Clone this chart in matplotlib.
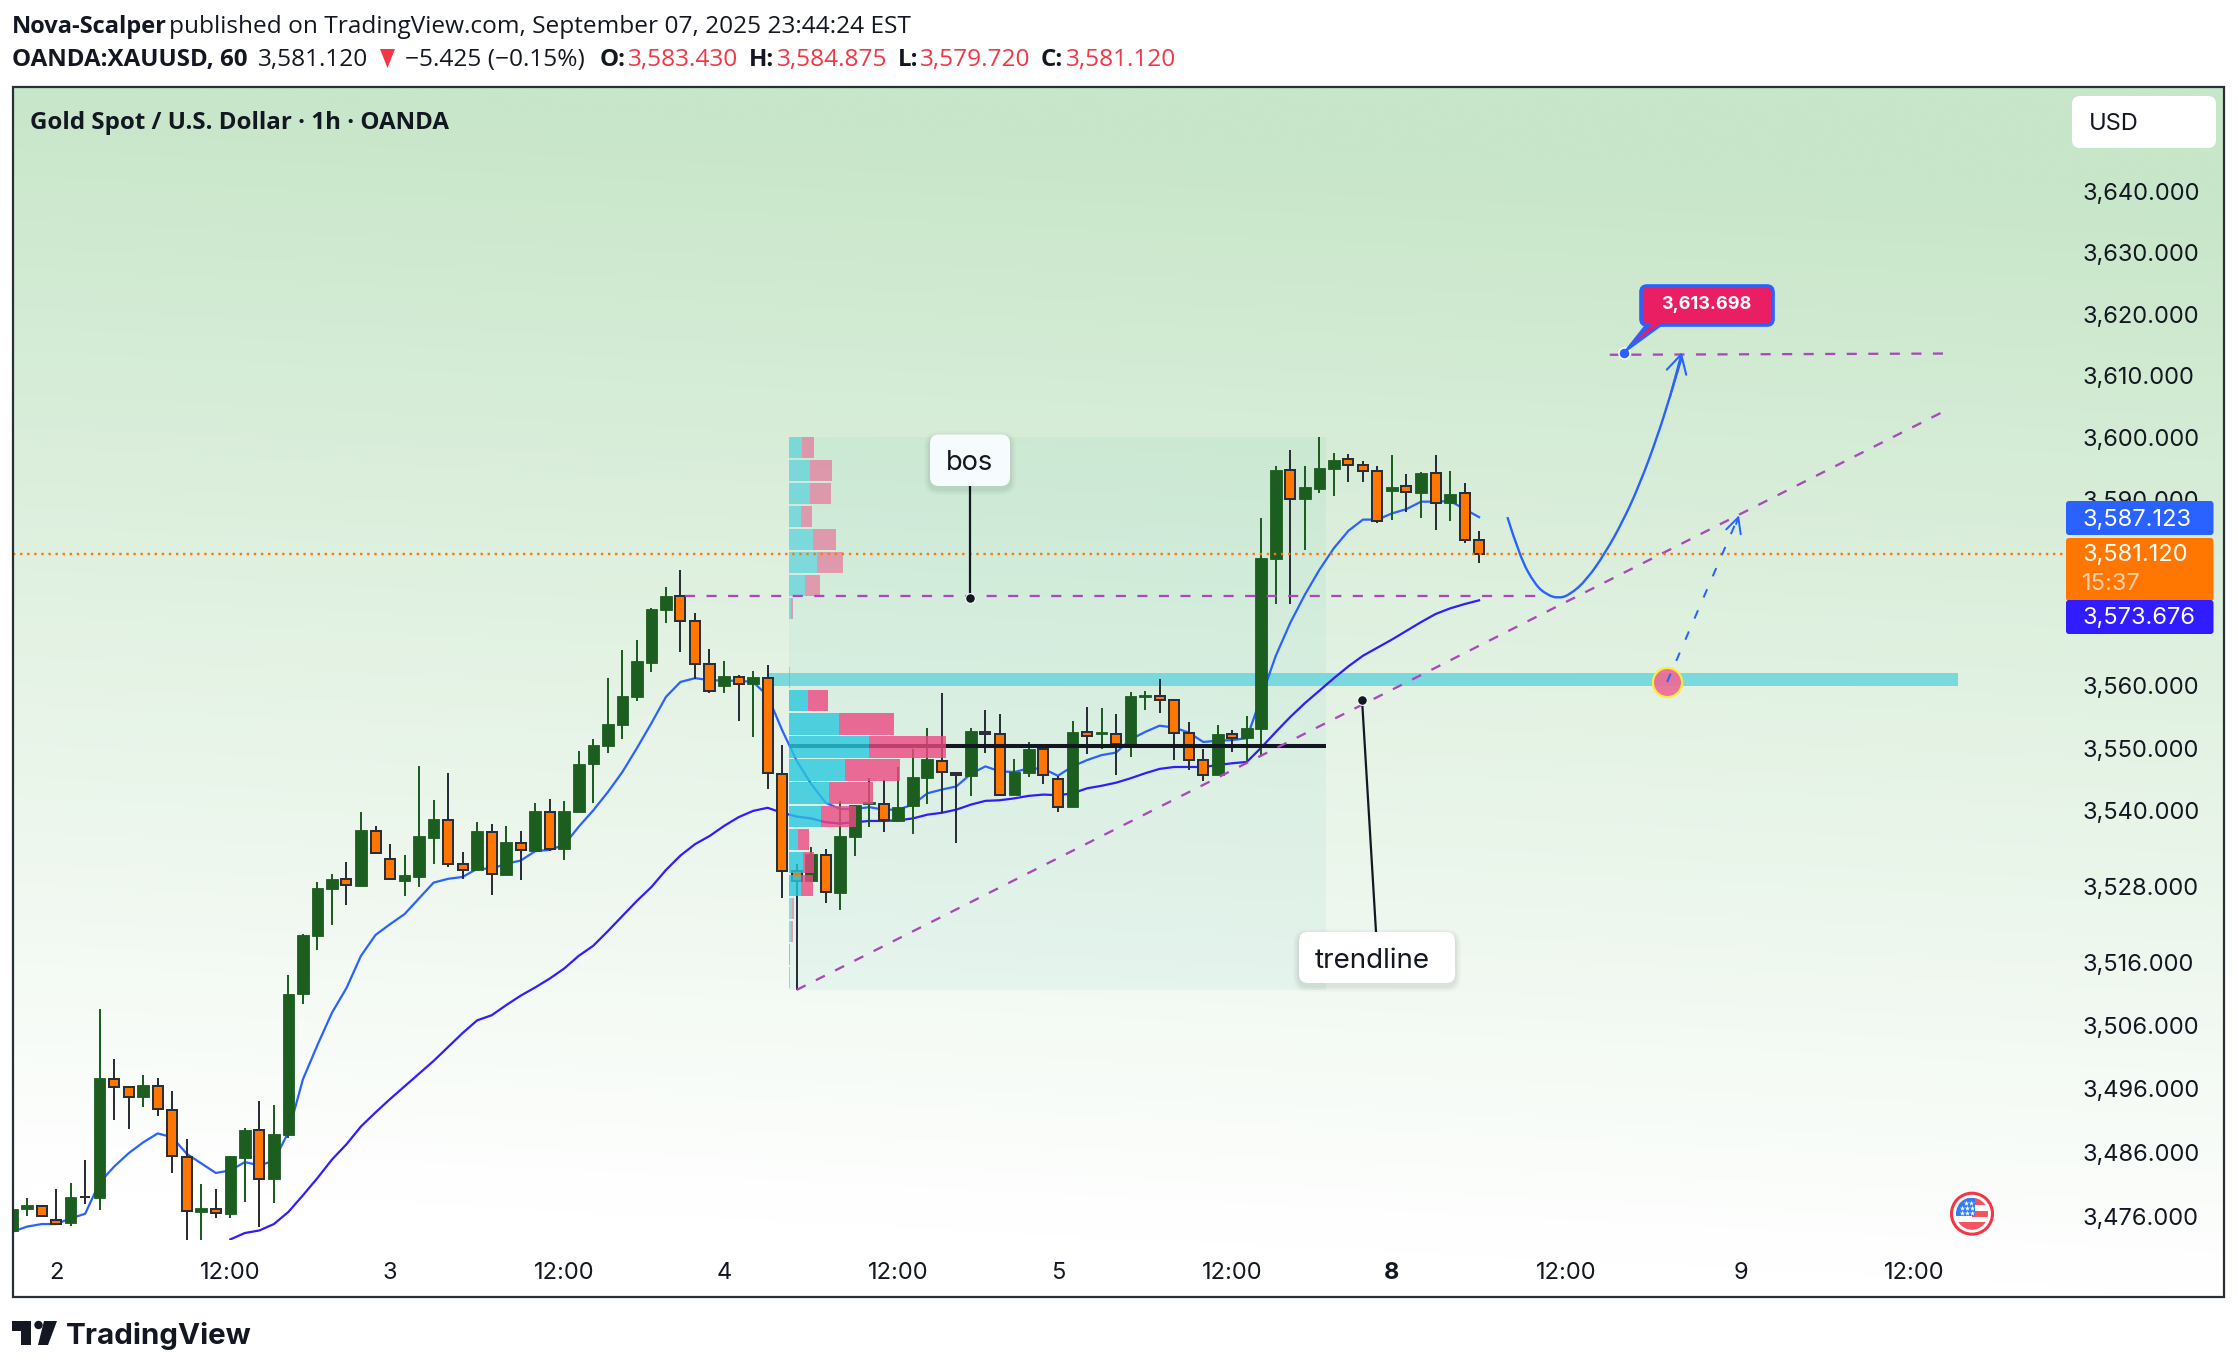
import numpy as np
import matplotlib
matplotlib.use("Agg")
import matplotlib.pyplot as plt
from matplotlib.patches import Rectangle, FancyBboxPatch, Polygon, Circle, PathPatch
from matplotlib.path import Path
from matplotlib.ticker import FixedLocator, FuncFormatter, NullLocator, NullFormatter

# ---------- data ----------
opens = [3473.7,3477.1,3477.7,3475.5,3475.0,3479.1,3478.8,3497.6,3496.3,3494.7,3496.4,3492.7,3485.3,3476.7,3477.2,3476.3,3485.2,3489.5,3481.8,3488.8,
         3511.0,3520.2,3527.6,3529.1,3528.1,3536.8,3532.4,3528.9,3529.5,3535.7,3538.6,3531.5,3530.6,3536.7,3529.8,3534.9,3533.6,3539.9,3533.9,3539.8,
         3547.5,3550.3,3553.7,3558.2,3563.6,3572.1,3574.4,3570.3,3563.5,3559.9,3561.4,3560.3,3561.3,3545.9,3530.4,3528.8,3533.0,3527.0,3535.9,3541.1,
         3541.1,3538.4,3540.8,3545.3,3548.0,3546.1,3545.6,3552.6,3552.3,3542.5,3546.0,3549.8,3545.1,3540.7,3552.6,3552.3,3552.3,3550.6,3558.2,3558.3,
         3557.7,3552.5,3548.1,3545.7,3552.3,3551.6,3553.1,3580.4,3594.7,3590.0,3591.7,3594.9,3596.5,3595.6,3594.6,3591.4,3592.1,3591.0,3594.2,3589.4,
         3591.0,3583.43]
highs = [3477.2,3478.9,3477.7,3480.3,3481.3,3484.9,3508.6,3500.7,3496.3,3498.2,3497.7,3495.7,3488.2,3481.1,3480.3,3485.5,3489.8,3494.1,3493.5,3514.0,
         3520.5,3528.7,3530.0,3531.9,3539.9,3537.6,3534.7,3533.0,3547.1,3541.7,3546.0,3533.4,3538.2,3537.9,3537.6,3536.8,3541.2,3541.9,3541.5,3549.5,
         3551.5,3561.2,3565.7,3567.3,3572.4,3575.8,3578.5,3571.6,3565.9,3564.0,3561.7,3562.4,3563.3,3550.5,3531.6,3534.2,3534.0,3541.6,3541.0,3545.3,
         3544.9,3547.0,3549.8,3553.2,3558.9,3546.1,3553.2,3556.1,3555.5,3548.3,3551.0,3550.1,3545.6,3554.3,3556.6,3556.4,3555.5,3559.0,3559.2,3561.1,
         3557.8,3554.2,3549.9,3553.7,3552.9,3555.1,3587.0,3595.4,3598.0,3595.4,3600.1,3597.5,3597.3,3596.1,3595.3,3597.1,3594.1,3594.4,3597.2,3594.6,
         3592.6,3584.875]
lows = [3473.7,3476.1,3476.1,3474.8,3474.5,3478.0,3477.0,3491.1,3489.7,3493.1,3491.8,3482.8,3470.0,3470.0,3475.7,3475.7,3478.2,3474.4,3478.1,3488.3,
        3509.4,3517.9,3521.9,3525.0,3528.1,3533.2,3529.1,3526.4,3527.9,3531.6,3531.0,3529.1,3530.6,3526.6,3529.8,3529.0,3533.6,3533.6,3532.2,3539.8,
        3541.2,3549.2,3551.5,3557.5,3562.2,3570.0,3565.4,3561.1,3558.9,3558.8,3554.4,3551.8,3543.5,3526.2,3511.6,3528.8,3525.4,3524.3,3532.8,3537.4,
        3536.7,3538.3,3536.3,3541.1,3539.6,3534.9,3542.3,3549.2,3542.3,3542.5,3545.4,3544.3,3539.9,3540.7,3549.0,3549.8,3545.7,3548.6,3556.1,3555.6,
        3548.1,3546.5,3544.8,3545.7,3549.4,3547.8,3548.8,3573.1,3573.1,3581.8,3591.0,3590.5,3592.8,3592.8,3586.2,3586.7,3587.9,3587.0,3585.0,3586.5,
        3583.0,3579.72]
closes = [3477.2,3477.8,3476.1,3474.8,3479.0,3479.0,3497.7,3496.3,3494.8,3496.6,3492.8,3485.4,3476.9,3477.3,3476.5,3485.4,3489.5,3481.8,3488.9,3510.9,
          3520.3,3527.7,3529.2,3528.2,3536.9,3533.3,3529.1,3529.8,3536.0,3538.7,3531.5,3530.6,3536.8,3529.9,3535.0,3533.7,3540.0,3534.0,3540.0,3547.5,
          3550.5,3553.9,3558.4,3564.0,3572.3,3574.4,3570.3,3563.4,3559.1,3561.5,3560.3,3561.4,3546.0,3530.5,3528.8,3533.1,3527.1,3536.0,3540.9,3541.4,
          3538.6,3540.7,3545.4,3548.3,3546.2,3545.7,3552.7,3552.3,3542.6,3546.2,3549.8,3545.7,3540.7,3552.6,3552.0,3552.6,3550.7,3558.4,3558.5,3557.7,
          3552.5,3548.1,3545.8,3552.3,3551.7,3553.2,3580.5,3594.7,3590.1,3592.0,3595.1,3596.4,3595.5,3594.5,3586.4,3592.0,3591.2,3594.2,3589.4,3590.8,
          3583.4,3581.12]
ema_fast = [3473.6,3474.4,3474.8,3474.8,3475.7,3476.4,3481.3,3483.8,3485.9,3487.6,3489.0,3488.4,3485.8,3484.3,3482.8,3483.2,3484.5,3484.0,3484.7,3489.2,
            3497.5,3502.9,3508.0,3511.9,3517.0,3520.3,3522.0,3523.6,3526.1,3528.6,3529.2,3529.5,3530.8,3530.8,3531.6,3532.1,3533.6,3533.8,3534.6,3537.5,
            3540.1,3543.0,3546.2,3550.0,3554.0,3558.2,3560.6,3561.2,3560.9,3560.8,3560.8,3560.6,3558.4,3552.9,3548.0,3544.3,3541.3,3540.3,3540.3,3540.6,
            3540.2,3540.2,3541.0,3542.8,3543.4,3543.9,3545.9,3547.1,3546.3,3546.2,3546.8,3546.7,3545.6,3547.1,3548.1,3548.9,3549.3,3551.4,3552.6,3553.6,
            3553.3,3552.5,3551.0,3551.2,3551.3,3551.6,3558.2,3564.8,3570.1,3574.6,3578.6,3582.1,3584.9,3586.7,3586.7,3587.7,3588.4,3589.6,3589.6,3589.7,
            3588.4,3587.1]
ema_slow_start = 15
ema_slow = [3472.4,3473.4,3473.8,3474.8,3476.7,3479.3,3482.0,3484.9,3487.3,3490.1,3492.3,3494.4,3496.4,3498.4,3500.4,3502.6,3504.8,3506.8,3507.6,3509.2,
            3510.7,3512.0,3513.4,3515.0,3517.0,3518.6,3520.9,3523.3,3525.7,3527.9,3530.6,3532.9,3534.7,3536.0,3537.6,3539.0,3540.0,3540.5,3539.7,3539.1,
            3538.8,3538.2,3538.0,3538.2,3538.4,3538.4,3538.5,3538.8,3539.4,3539.7,3540.2,3541.0,3541.6,3541.7,3542.0,3542.4,3542.6,3542.5,3542.8,3543.6,
            3544.0,3544.5,3545.2,3546.0,3546.7,3547.0,3547.0,3547.0,3547.3,3547.6,3547.8,3550.1,3552.6,3555.0,3557.2,3559.2,3561.2,3563.1,3564.8,3566.1,
            3567.4,3568.8,3570.2,3571.5,3572.4,3573.1,3573.7]
vp_up = [38,63,63,36,72,84,48,6,0,0,2,57,150,240,168,120,96,27,42,36,9,6,0,3]
vp_down = [37,66,63,33,69,78,45,6,0,0,0,60,165,231,165,132,105,33,33,36,6,6,3,0]
price_ticks = [3640,3630,3620,3610,3600,3590,3560,3550,3540,3528,3516,3506,3496,3486,3476]
time_idx = [3,15,26,38,49,61,72,84,95,107,119,131]
time_labels = ["2","12:00","3","12:00","4","12:00","5","12:00","8","12:00","9","12:00"]
curve_x = [102.95,103.8,104.86,105.66,106.46,107.26,108.41,109.68,110.94,112.09,113.23,114.15,114.96]
curve_y = [3587.1,3580.7,3576.2,3574.6,3574.0,3574.6,3577.0,3581.3,3586.6,3592.6,3599.8,3606.6,3613.0]
last_price = 3581.12
bos_price = 3574.45
poc_price = 3550.3
zone_low, zone_high = 3560.0, 3562.0
range_top, range_bottom = 3600.1, 3511.6
trend_x, trend_y = [54, 133], [3511.6, 3604.2]
target_x, target_y = [110, 133], [3613.4, 3613.6]
target_price = 3613.698

# ---------- layout ----------
W, H = 2238, 1370
fig = plt.figure(figsize=(W/100, H/100), dpi=100, facecolor="white")
L, R, T, B, PB = 13, 2224, 87, 1297, 1240
UI = "Inter"
INK = "#131722"
FRAME = "#2a2e39"
GREEN = "#1b5e20"
ORANGE = "#ff7600"
BLUE = "#2962ff"
DEEP = "#311bff"
PURPLE = "#ab47bc"
PINK = "#e91e63"

# gradient background
bg = fig.add_axes([L/W, 1-B/H, (R-L)/W, (B-T)/H], zorder=0)
yy, xx = np.mgrid[0:(B-T):400j, 0:(R-L):600j]
t = np.clip((yy - 0.05*xx)/1096, 0, 1)[..., None]
bg.imshow(np.array([200,230,201])/255*(1-t) + t, aspect="auto", interpolation="bilinear")
bg.axis("off")

# main chart
ax = fig.add_axes([L/W, 1-PB/H, (R-L)/W, (PB-T)/H], zorder=1, facecolor="none")
ax.set_yscale("log")
idx = np.arange(len(opens))
o, h, l, c = map(np.array, (opens, highs, lows, closes))
up = c >= o
ax.fill_between([53.48, 90.46], range_bottom, range_top, color=(0, .65, .6, .05), lw=0, zorder=1)
ax.fill_between([52, 134], zone_low, zone_high, color="#7bd9de", lw=0, zorder=1.5)
ax.plot(idx, ema_fast, color=BLUE, lw=1.6, zorder=2)
ax.plot(np.arange(ema_slow_start, ema_slow_start+len(ema_slow)), ema_slow, color=DEEP, lw=1.6, zorder=2)
ax.vlines(idx[up], l[up], h[up], color=GREEN, lw=1.44, zorder=3)
ax.vlines(idx[~up], l[~up], h[~up], color=FRAME, lw=1.44, zorder=3)
ax.bar(idx[up], (c-o)[up], bottom=o[up], width=0.8, color=GREEN, edgecolor=GREEN, lw=0.6, zorder=3.1)
ax.bar(idx[~up], (o-c)[~up], bottom=c[~up], width=0.69, color=ORANGE, edgecolor=FRAME, lw=1.44, zorder=3.1)
ax.plot([53.48, 90.46], [poc_price]*2, color=INK, lw=2.9, solid_capstyle="butt", zorder=3.5)

# volume profile
edges = np.geomspace(range_top, range_bottom, len(vp_up)+1)
vp_scale = 1/(3*14.52)
for k, (u, d) in enumerate(zip(vp_up, vp_down)):
    a = 0.8 if 11 <= k <= 19 else 0.5
    y0, hh = edges[k], (edges[k+1]-edges[k])*0.92
    if u:
        ax.bar(53.48, hh, bottom=y0, width=u*vp_scale, align="edge", color=(42/255,200/255,222/255,a), lw=0, zorder=4)
    if d:
        ax.bar(53.48+u*vp_scale, hh, bottom=y0, width=d*vp_scale, align="edge", color=(237/255,73/255,129/255,a), lw=0, zorder=4)

# drawings
dash = (0, (4.4, 5))
ax.plot([46.3, 105], [bos_price]*2, color=PURPLE, lw=1.65, ls=dash, zorder=4.5)
ax.plot(trend_x, trend_y, color=PURPLE, lw=1.65, ls=dash, zorder=4.5)
ax.plot(target_x, target_y, color=PURPLE, lw=1.65, ls=dash, zorder=4.5)
ax.plot([0, 141.2], [last_price]*2, color=ORANGE, lw=1.7, ls=(0, (1, 2)), zorder=4.5)

# smooth forecast curve through the read points
P = np.column_stack((curve_x, curve_y))
verts, codes = [P[0]], [Path.MOVETO]
for j in range(1, len(P)-1):
    end = P[j+1] if j == len(P)-2 else (P[j]+P[j+1])/2
    verts += [P[j], end]
    codes += [Path.CURVE3, Path.CURVE3]
ax.add_patch(PathPatch(Path(verts, codes), fc="none", ec=BLUE, lw=1.7, zorder=4.6))
ax.annotate("", xy=(curve_x[-1], 3613.8), xytext=(curve_x[-2], curve_y[-2]), zorder=4.6,
            arrowprops=dict(arrowstyle="->,head_length=0.55,head_width=0.3", color=BLUE, lw=1.5,
                            shrinkA=0, shrinkB=0, mutation_scale=24))
ax.plot([113.95], [3560.6], "o", ms=21, mfc=(236/255,107/255,150/255,.92), mec="#ffeb3b", mew=1.6, zorder=4.65)
ax.plot([113.95, 118.9], [3560.6, 3587.4], color=BLUE, lw=1.44, ls=(0, (4.5, 7)), zorder=4.7)
ax.annotate("", xy=(118.9, 3587.4), xytext=(118.7, 3586.0), zorder=4.7,
            arrowprops=dict(arrowstyle="->,head_length=0.5,head_width=0.25", color=BLUE, lw=1.4,
                            shrinkA=0, shrinkB=0, mutation_scale=22))
# label leaders
ax.plot([65.94, 65.94], [bos_price-0.4, 3592.1], color=INK, lw=1.6, zorder=4.8)
ax.plot([65.94], [bos_price-0.4], "o", ms=7, mfc=INK, mec="white", mew=0.8, zorder=4.9)
ax.plot([92.94, 93.9], [3557.7, 3520.8], color=INK, lw=1.6, zorder=4.8)
ax.plot([92.94], [3557.7], "o", ms=7, mfc=INK, mec="white", mew=0.8, zorder=4.9)
ax.plot([110.95], [target_price], "o", ms=8, mfc=BLUE, mec="white", mew=1.1, zorder=5)

ax.set_xlim(0.034, 152.3)
ax.set_ylim(3472.31, 3657.2)
ax.yaxis.tick_right()
ax.yaxis.set_major_locator(FixedLocator(price_ticks))
ax.yaxis.set_minor_locator(NullLocator())
ax.yaxis.set_minor_formatter(NullFormatter())
ax.yaxis.set_major_formatter(FuncFormatter(lambda v, _: f"{v:,.3f}"))
ax.tick_params(axis="y", which="both", length=0, pad=-102, labelsize=17, labelcolor=INK)
ax.set_xticks(time_idx, time_labels)
ax.tick_params(axis="x", length=0, pad=15.6, labelsize=17, labelcolor=INK)
for lab in ax.get_xticklabels() + ax.get_yticklabels():
    lab.set_fontfamily(UI)
ax.get_xticklabels()[8].set_fontweight("bold")
for s in ax.spines.values():
    s.set_visible(False)

# overlay in pixels for the chart chrome
px = fig.add_axes([0, 0, 1, 1], zorder=2, facecolor="none")
px.set_xlim(0, W)
px.set_ylim(H, 0)
px.axis("off")
px.add_patch(Rectangle((L, T), R-L, B-T, fc="none", ec=FRAME, lw=1.6))

def box(x0, y0, x1, y1, fc, r=4, shadow=False, ec="none", lw=0, z=5):
    if shadow:
        for g, a in ((6, .02), (4, .03), (2, .04)):
            px.add_patch(FancyBboxPatch((x0+r-g, y0+r-g+3), x1-x0-2*r+2*g, y1-y0-2*r+2*g,
                                        boxstyle=f"round,pad={r},rounding_size={r+g}", fc=(0, 0, 0, a), ec="none", zorder=z-.5))
    px.add_patch(FancyBboxPatch((x0+r, y0+r), x1-x0-2*r, y1-y0-2*r, boxstyle=f"round,pad={r},rounding_size={r}",
                                fc=fc, ec=ec, lw=lw, zorder=z))

box(2072, 96, 2216, 148, "white", r=8)
px.text(2089, 124, "USD", family=UI, fontsize=17, color=INK, va="center", ha="left", zorder=6)
box(2066, 501, 2213.5, 535, BLUE, r=3)
box(2066, 538, 2213.5, 601, ORANGE, r=3)
box(2066, 600, 2213.5, 634, DEEP, r=3)
for yv, s, col in ((519.5, "3,587.123", "white"), (554.5, "3,581.120", "white"), (583.5, "15:37", "#ffd0ad"), (617.5, "3,573.676", "white")):
    px.text(2082, yv, s, family=UI, fontsize=17, color=col, va="center", ha="left", zorder=6)

# bos / trendline labels
box(930, 434.5, 1010, 486, "#f6fbfd", r=9, shadow=True)
px.text(970, 463, "bos", family=UI, fontsize=19.6, color=INK, va="center", ha="center", zorder=6)
box(1299, 932, 1455, 983, "white", r=9, shadow=True)
px.text(1315, 961, "trendline", family=UI, fontsize=20, color=INK, va="center", ha="left", zorder=6)

# target callout
px.add_patch(Polygon([(1623.5, 353), (1648, 322), (1666, 322)], fc=BLUE, ec=BLUE, lw=1, zorder=5))
box(1641, 286, 1773, 325, PINK, r=6, ec=BLUE, lw=2.6)
px.add_patch(Polygon([(1634, 343), (1652, 324), (1660, 324)], fc=PINK, ec="none", zorder=5.1))
px.text(1706.5, 304.5, f"{target_price:,.3f}", family=UI, fontsize=13, fontweight="bold", color="white",
        va="center", ha="center", zorder=6)

# flag
cx, cy = 1972, 1213.7
px.add_patch(Circle((cx, cy), 20.5, fc="white", ec="#f23645", lw=2.2, zorder=5))
clip = Circle((cx, cy), 16, transform=px.transData)
for (x0, y0, w, hh, col) in ((cx-16, cy-16, 32, 32, "#ffffff"), (cx-16, cy-16, 32, 7, "#f7525f"), (cx, cy-3, 16, 6, "#f7525f"),
                             (cx-16, cy+8, 32, 8, "#f7525f"), (cx-16, cy-16, 19, 18, "#2e7cf6")):
    p = Rectangle((x0, y0), w, hh, fc=col, ec="none", zorder=5.2)
    px.add_patch(p)
    p.set_clip_path(clip)
px.scatter([cx-6, cx-1, cx-10, cx-5, cx, cx-10, cx-5, cx], [cy-11, cy-11, cy-6, cy-6, cy-6, cy-1, cy-1, cy-1],
           marker="*", s=16, color="white", lw=0, zorder=5.4)

# header
HEAD = "Open Sans"
px.text(12, 26.5, "Nova-Scalper", family=HEAD, fontsize=17, fontweight="bold", color=INK, va="center")
px.text(169, 26.5, "published on TradingView.com, September 07, 2025 23:44:24 EST", family=HEAD, fontsize=17.6, color=INK, va="center")
red = "#f23645"
for x, s, col, wt in ((12, "OANDA:XAUUSD, 60", INK, "bold"), (258, "3,581.120", INK, "normal"),
                      (405, "−5.425 (−0.15%)", INK, "normal"), (600, "O:", INK, "bold"), (628, "3,583.430", red, "normal"),
                      (749, "H:", INK, "bold"), (777, "3,584.875", red, "normal"), (898, "L:", INK, "bold"),
                      (920, "3,579.720", red, "normal"), (1041, "C:", INK, "bold"), (1066, "3,581.120", red, "normal")):
    px.text(x, 59.5, s, family=HEAD, fontsize=17.6 if wt == "normal" else 17.4, fontweight=wt, color=col, va="center")
px.add_patch(Polygon([(380, 49), (395, 49), (387.5, 68)], fc=red, ec="none"))
px.text(30, 122.5, "Gold Spot / U.S. Dollar · 1h · OANDA", family=HEAD, fontsize=17.4, fontweight="bold", color=INK, va="center")

# TradingView logo
px.add_patch(Polygon([(12, 1321), (31, 1321), (31, 1345), (21, 1345), (21, 1331), (12, 1331)], fc=INK, ec="none"))
px.add_patch(Circle((38.5, 1325), 4.2, fc=INK, ec="none"))
px.add_patch(Polygon([(44, 1321), (57, 1321), (48, 1345), (38, 1345)], fc=INK, ec="none"))
px.text(66, 1336, "TradingView", family=UI, fontsize=21.3, fontweight="bold", color=INK, va="center")

fig.savefig("out.png", dpi=100)
